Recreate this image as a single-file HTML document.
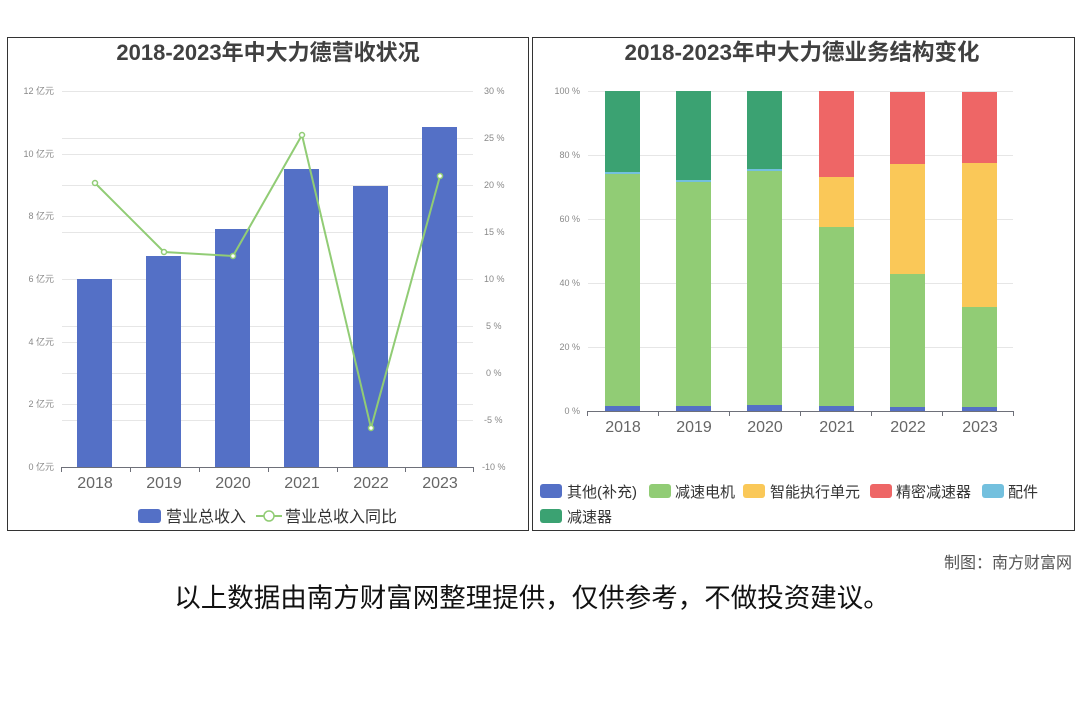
<!DOCTYPE html>
<html><head><meta charset="utf-8"><style>
body{margin:0;background:#fff;}
svg text{font-family:"Liberation Sans","Noto Sans CJK SC",sans-serif;}
</style></head><body>
<svg width="1080" height="720" viewBox="0 0 1080 720" xmlns="http://www.w3.org/2000/svg">
<rect width="1080" height="720" fill="#fff"/>
<!-- Left panel -->
<rect x="7.5" y="37.5" width="521" height="493" fill="none" stroke="#333" stroke-width="1"/>
<text x="268" y="60" font-size="22" font-weight="bold" fill="#404040" text-anchor="middle">2018-2023年中大力德营收状况</text>
<g stroke="#e6e6e6" stroke-width="1">
<line x1="62" x2="473" y1="91.5" y2="91.5"/><line x1="62" x2="473" y1="154.5" y2="154.5"/><line x1="62" x2="473" y1="216.5" y2="216.5"/><line x1="62" x2="473" y1="279.5" y2="279.5"/><line x1="62" x2="473" y1="342.5" y2="342.5"/><line x1="62" x2="473" y1="404.5" y2="404.5"/>
<line x1="62" x2="473" y1="138.5" y2="138.5"/><line x1="62" x2="473" y1="185.5" y2="185.5"/><line x1="62" x2="473" y1="232.5" y2="232.5"/><line x1="62" x2="473" y1="326.5" y2="326.5"/><line x1="62" x2="473" y1="373.5" y2="373.5"/><line x1="62" x2="473" y1="420.5" y2="420.5"/>
</g>
<g font-size="9" fill="#888" text-anchor="end">
<text x="54" y="94">12 亿元</text><text x="54" y="157">10 亿元</text><text x="54" y="219">8 亿元</text><text x="54" y="282">6 亿元</text><text x="54" y="345">4 亿元</text><text x="54" y="407">2 亿元</text><text x="54" y="470">0 亿元</text>
</g>
<g font-size="9" fill="#888" text-anchor="start">
<text x="484" y="94">30 %</text><text x="484" y="141">25 %</text><text x="484" y="188">20 %</text><text x="484" y="235">15 %</text><text x="484" y="282">10 %</text><text x="486" y="329">5 %</text><text x="486" y="376">0 %</text><text x="484" y="423">-5 %</text><text x="482" y="470">-10 %</text>
</g>
<g fill="#5470c6">
<rect x="77" y="279" width="35" height="188"/>
<rect x="146" y="256" width="35" height="211"/>
<rect x="215" y="229" width="35" height="238"/>
<rect x="284" y="169" width="35" height="298"/>
<rect x="353" y="186" width="35" height="281"/>
<rect x="422" y="127" width="35" height="340"/>
</g>
<line x1="61" x2="474" y1="467.5" y2="467.5" stroke="#6e7079"/>
<g stroke="#6e7079"><line x1="61.5" x2="61.5" y1="467" y2="472"/><line x1="130.5" x2="130.5" y1="467" y2="472"/><line x1="199.5" x2="199.5" y1="467" y2="472"/><line x1="268.5" x2="268.5" y1="467" y2="472"/><line x1="337.5" x2="337.5" y1="467" y2="472"/><line x1="405.5" x2="405.5" y1="467" y2="472"/><line x1="473.5" x2="473.5" y1="467" y2="472"/></g>
<g font-size="16" fill="#666" text-anchor="middle">
<text x="95" y="488">2018</text><text x="164" y="488">2019</text><text x="233" y="488">2020</text><text x="302" y="488">2021</text><text x="371" y="488">2022</text><text x="440" y="488">2023</text>
</g>
<polyline points="95,183 164,252 233,256 302,135 371,428 440,176" fill="none" stroke="#91cc75" stroke-width="2"/>
<g fill="#fff" stroke="#91cc75" stroke-width="1.5">
<circle cx="95" cy="183" r="2.5"/><circle cx="164" cy="252" r="2.5"/><circle cx="233" cy="256" r="2.5"/><circle cx="302" cy="135" r="2.5"/><circle cx="371" cy="428" r="2.5"/><circle cx="440" cy="176" r="2.5"/>
</g>
<rect x="138" y="509" width="23" height="14" rx="3" fill="#5470c6"/>
<text x="166" y="522" font-size="16" fill="#333">营业总收入</text>
<line x1="256" x2="282" y1="516" y2="516" stroke="#91cc75" stroke-width="2"/>
<circle cx="269" cy="516" r="5" fill="#fff" stroke="#91cc75" stroke-width="1.5"/>
<text x="285" y="522" font-size="16" fill="#333">营业总收入同比</text>

<!-- Right panel -->
<rect x="532.5" y="37.5" width="542" height="493" fill="none" stroke="#333" stroke-width="1"/>
<text x="802" y="60" font-size="22.5" font-weight="bold" fill="#404040" text-anchor="middle">2018-2023年中大力德业务结构变化</text>
<g stroke="#e6e6e6"><line x1="588" x2="1013" y1="91.5" y2="91.5"/><line x1="588" x2="1013" y1="155.5" y2="155.5"/><line x1="588" x2="1013" y1="219.5" y2="219.5"/><line x1="588" x2="1013" y1="283.5" y2="283.5"/><line x1="588" x2="1013" y1="347.5" y2="347.5"/></g>
<g font-size="9" fill="#888" text-anchor="end">
<text x="580" y="94">100 %</text><text x="580" y="158">80 %</text><text x="580" y="222">60 %</text><text x="580" y="286">40 %</text><text x="580" y="350">20 %</text><text x="580" y="414">0 %</text>
</g>
<g>
<rect x="605" y="406" width="35" height="5" fill="#5470c6"/>
<rect x="605" y="174" width="35" height="232" fill="#91cc75"/>
<rect x="605" y="172" width="35" height="2" fill="#73c0de"/>
<rect x="605" y="91" width="35" height="81" fill="#3ba272"/>
<rect x="676" y="406" width="35" height="5" fill="#5470c6"/>
<rect x="676" y="182" width="35" height="224" fill="#91cc75"/>
<rect x="676" y="180" width="35" height="2" fill="#73c0de"/>
<rect x="676" y="91" width="35" height="89" fill="#3ba272"/>
<rect x="747" y="405" width="35" height="6" fill="#5470c6"/>
<rect x="747" y="171" width="35" height="234" fill="#91cc75"/>
<rect x="747" y="169" width="35" height="2" fill="#73c0de"/>
<rect x="747" y="91" width="35" height="78" fill="#3ba272"/>
<rect x="819" y="406" width="35" height="5" fill="#5470c6"/>
<rect x="819" y="227" width="35" height="179" fill="#91cc75"/>
<rect x="819" y="177" width="35" height="50" fill="#fac858"/>
<rect x="819" y="91" width="35" height="86" fill="#ee6666"/>
<rect x="890" y="407" width="35" height="4" fill="#5470c6"/>
<rect x="890" y="274" width="35" height="133" fill="#91cc75"/>
<rect x="890" y="164" width="35" height="110" fill="#fac858"/>
<rect x="890" y="92" width="35" height="72" fill="#ee6666"/>
<rect x="962" y="407" width="35" height="4" fill="#5470c6"/>
<rect x="962" y="307" width="35" height="100" fill="#91cc75"/>
<rect x="962" y="163" width="35" height="144" fill="#fac858"/>
<rect x="962" y="92" width="35" height="71" fill="#ee6666"/>
</g>
<line x1="587" x2="1014" y1="411.5" y2="411.5" stroke="#6e7079"/>
<g stroke="#6e7079"><line x1="587.5" x2="587.5" y1="411" y2="416"/><line x1="658.5" x2="658.5" y1="411" y2="416"/><line x1="729.5" x2="729.5" y1="411" y2="416"/><line x1="800.5" x2="800.5" y1="411" y2="416"/><line x1="871.5" x2="871.5" y1="411" y2="416"/><line x1="942.5" x2="942.5" y1="411" y2="416"/><line x1="1013.5" x2="1013.5" y1="411" y2="416"/></g>
<g font-size="16" fill="#666" text-anchor="middle">
<text x="623" y="432">2018</text><text x="694" y="432">2019</text><text x="765" y="432">2020</text><text x="837" y="432">2021</text><text x="908" y="432">2022</text><text x="980" y="432">2023</text>
</g>
<g font-size="15" fill="#333">
<rect x="540" y="484" width="22" height="14" rx="3" fill="#5470c6"/><text x="567" y="497">其他(补充)</text>
<rect x="649" y="484" width="22" height="14" rx="3" fill="#91cc75"/><text x="675" y="497">减速电机</text>
<rect x="743" y="484" width="22" height="14" rx="3" fill="#fac858"/><text x="770" y="497">智能执行单元</text>
<rect x="870" y="484" width="22" height="14" rx="3" fill="#ee6666"/><text x="896" y="497">精密减速器</text>
<rect x="982" y="484" width="22" height="14" rx="3" fill="#73c0de"/><text x="1008" y="497">配件</text>
<rect x="540" y="509" width="22" height="14" rx="3" fill="#3ba272"/><text x="567" y="522">减速器</text>
</g>

<text x="1072" y="568" font-size="16" fill="#555" text-anchor="end">制图：南方财富网</text>
<text x="532" y="607" font-size="26.5" fill="#111" text-anchor="middle">以上数据由南方财富网整理提供，仅供参考，不做投资建议。</text>
</svg>
</body></html>
